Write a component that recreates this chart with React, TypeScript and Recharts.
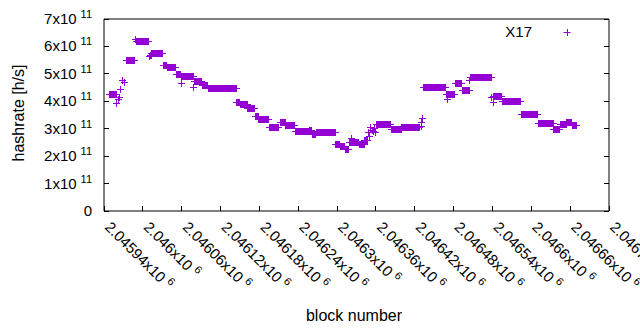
import React from "react";
import { ScatterChart, Scatter, XAxis, YAxis } from "recharts";

// runs of blocks that share the same hashrate estimate (value in 1e11 h/s)
const runStart = [
  2045948, 2045960, 2045962, 2045964, 2045966, 2045969, 2045972,
  2045975, 2045988, 2045990, 2046011, 2046012, 2046014,
  2046032, 2046038, 2046052, 2046059, 2046060, 2046079, 2046080, 2046092, 2046101,
  2046145, 2046151, 2046162, 2046174, 2046179, 2046195, 2046213, 2046221,
  2046236, 2046257, 2046262, 2046268, 2046298, 2046305, 2046313,
  2046319, 2046322, 2046334, 2046343,
  2046348, 2046350, 2046352, 2046354, 2046356, 2046358, 2046360,
  2046361, 2046384, 2046400, 2046430, 2046431, 2046432, 2046433,
  2046469, 2046470, 2046483, 2046493, 2046505, 2046506,
  2046539, 2046541, 2046542, 2046555, 2046585, 2046611, 2046635,
  2046645, 2046655, 2046663,
];
const runEnd = [
  2045959, 2045960, 2045962, 2045964, 2045966, 2045969, 2045972,
  2045987, 2045988, 2046009, 2046011, 2046013, 2046031,
  2046037, 2046051, 2046058, 2046059, 2046078, 2046079, 2046091, 2046100, 2046144,
  2046150, 2046161, 2046173, 2046178, 2046194, 2046210, 2046220, 2046235,
  2046256, 2046261, 2046267, 2046297, 2046304, 2046312, 2046318,
  2046333, 2046322, 2046342, 2046347,
  2046348, 2046350, 2046352, 2046354, 2046356, 2046358, 2046360,
  2046383, 2046399, 2046428, 2046430, 2046431, 2046432, 2046468,
  2046482, 2046470, 2046492, 2046504, 2046505, 2046538,
  2046539, 2046541, 2046554, 2046584, 2046610, 2046634, 2046644,
  2046654, 2046662, 2046670,
];
const runValue = [
  4.25, 3.92, 4.07, 4.15, 4.43, 4.77, 4.68,
  5.5, 6.27, 6.17, 5.62, 5.68, 5.73,
  5.3, 5.24, 4.97, 4.65, 4.89, 4.5, 4.71, 4.58, 4.45,
  3.96, 3.9, 3.73, 3.44, 3.32, 3.04, 3.22, 3.1,
  2.89, 2.94, 2.78, 2.88, 2.42, 2.35, 2.25,
  2.49, 2.66, 2.44, 2.58,
  2.85, 2.7, 3.03, 2.95, 2.9, 3.0, 2.85,
  3.14, 2.96, 3.06, 3.09, 3.24, 3.36, 4.49,
  4.25, 4.07, 4.64, 4.4, 4.77, 4.86,
  4.13, 3.97, 4.17, 3.98, 3.51, 3.18, 2.97,
  3.15, 3.22, 3.13,
];

const xTicks = [
  2045940, 2046000, 2046060, 2046120, 2046180, 2046240, 2046300,
  2046360, 2046420, 2046480, 2046540, 2046600, 2046660, 2046720,
];
const yTicks = [0, 1e11, 2e11, 3e11, 4e11, 5e11, 6e11, 7e11];

const seriesName = "X17";
const COLOR = "#9400d3";
const FONT = "'Liberation Sans', Arial, sans-serif";

const points: { block: number; hashrate: number }[] = [];
runStart.forEach((s, i) => {
  for (let b = s; b <= runEnd[i]; b++) points.push({ block: b, hashrate: runValue[i] * 1e11 });
});

const crisp = (v: number) => Math.round(v - 0.5) + 0.5;

const Plus = (props: any) => {
  const cx = crisp(props.cx);
  const cy = crisp(props.cy);
  return (
    <path d={`M${cx - 3.5},${cy}h7M${cx},${cy - 3.5}v7`} stroke={COLOR} strokeWidth={1} fill="none" />
  );
};

const XTick = (props: any) => {
  const { x, y, payload } = props;
  const mant = parseFloat((payload.value / 1e6).toFixed(5)).toString();
  const px = crisp(x);
  return (
    <g>
      <line x1={px} y1={y} x2={px} y2={y - 5} stroke="#000" />
      <text transform={`translate(${x},${y + 17}) rotate(45)`} fontSize={15} fontFamily={FONT} fill="#000">
        <tspan>{mant}x10</tspan>
        <tspan dx={4} dy={-6} fontSize={11}>6</tspan>
      </text>
    </g>
  );
};

const XTopTick = (props: any) => {
  const px = crisp(props.x);
  return <line x1={px} y1={props.y} x2={px} y2={props.y + 5} stroke="#000" />;
};

const YTick = (props: any) => {
  const { x, y, payload } = props;
  const v = payload.value / 1e11;
  const py = crisp(y);
  return (
    <g>
      <line x1={x} y1={py} x2={x + 5} y2={py} stroke="#000" />
      <text x={x - 12} y={y + 5} textAnchor="end" fontSize={15} fontFamily={FONT} fill="#000">
        {v === 0 ? (
          "0"
        ) : (
          <>
            <tspan>{v}x10</tspan>
            <tspan dx={4} dy={-6} fontSize={11}>11</tspan>
          </>
        )}
      </text>
    </g>
  );
};

const YRightTick = (props: any) => {
  const py = crisp(props.y);
  return <line x1={props.x} y1={py} x2={props.x - 5} y2={py} stroke="#000" />;
};

export default function App() {
  return (
    <div style={{ position: "absolute", left: 0, top: 0, width: 640, height: 330, background: "#fff" }}>
      <ScatterChart width={640} height={330} margin={{ top: 18, right: 30, bottom: 19, left: 8 }}>
        <XAxis
          xAxisId={0}
          dataKey="block"
          type="number"
          domain={[2045940, 2046720]}
          ticks={xTicks}
          height={100}
          tickSize={0}
          tickMargin={0}
          tickLine={false}
          tick={<XTick />}
          axisLine={{ stroke: "#000" }}
          allowDataOverflow
          interval={0}
        />
        <XAxis
          xAxisId="top"
          orientation="top"
          type="number"
          domain={[2045940, 2046720]}
          ticks={xTicks}
          height={1}
          tickSize={0}
          tickMargin={0}
          tickLine={false}
          tick={<XTopTick />}
          axisLine={{ stroke: "#000" }}
          allowDataOverflow
          interval={0}
        />
        <YAxis
          yAxisId={0}
          dataKey="hashrate"
          type="number"
          domain={[0, 7e11]}
          ticks={yTicks}
          width={96}
          tickSize={0}
          tickMargin={0}
          tickLine={false}
          tick={<YTick />}
          axisLine={{ stroke: "#000" }}
          allowDataOverflow
          interval={0}
        />
        <YAxis
          yAxisId="right"
          orientation="right"
          type="number"
          domain={[0, 7e11]}
          ticks={yTicks}
          width={1}
          tickSize={0}
          tickMargin={0}
          tickLine={false}
          tick={<YRightTick />}
          axisLine={{ stroke: "#000" }}
          allowDataOverflow
          interval={0}
        />
        <Scatter
          name={seriesName}
          data={points}
          xAxisId={0}
          yAxisId={0}
          shape={<Plus />}
          isAnimationActive={false}
        />
      </ScatterChart>
      <svg width={640} height={330} style={{ position: "absolute", left: 0, top: 0, pointerEvents: "none" }}>
        <text transform="translate(24,113) rotate(-90)" textAnchor="middle" fontSize={16} fontFamily={FONT} fill="#000">
          hashrate [h/s]
        </text>
        <text x={354} y={321} textAnchor="middle" fontSize={16} fontFamily={FONT} fill="#000">
          block number
        </text>
        <text x={532} y={37} textAnchor="end" fontSize={15} fontFamily={FONT} fill="#000">
          {seriesName}
        </text>
        <path d="M563.5,32.5h7M567.5,29v7" stroke={COLOR} strokeWidth={1} fill="none" />
      </svg>
    </div>
  );
}
